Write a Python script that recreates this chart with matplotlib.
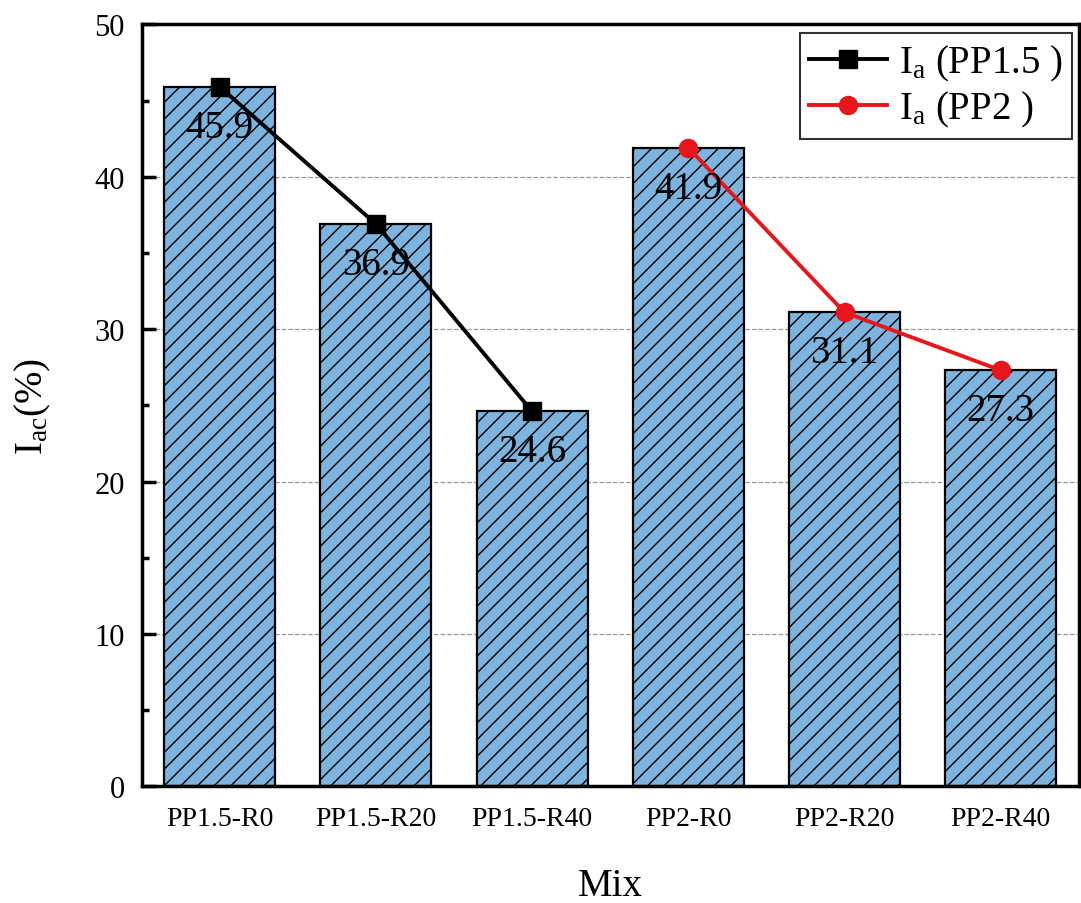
import matplotlib
matplotlib.use("Agg")
import matplotlib.pyplot as plt
import numpy as np

plt.rcParams['font.family'] = ['Liberation Serif', 'DejaVu Serif']
plt.rcParams['mathtext.fontset'] = 'custom'
plt.rcParams['mathtext.rm'] = 'Liberation Serif'
plt.rcParams['mathtext.it'] = 'Liberation Serif'
plt.rcParams['hatch.linewidth'] = 1.0

# data
mixes = ['PP1.5-R0', 'PP1.5-R20', 'PP1.5-R40', 'PP2-R0', 'PP2-R20', 'PP2-R40']
iac = [45.9, 36.9, 24.6, 41.9, 31.1, 27.3]
pp15_idx = [0, 1, 2]
pp2_idx = [3, 4, 5]

fig = plt.figure(figsize=(10.81, 9.04), dpi=100)
ax = fig.add_axes([0.131, 0.129, 0.867, 0.843])

x = np.arange(len(mixes))
ax.bar(x, iac, width=0.71, color='#7db4de', edgecolor='black', linewidth=1.6,
       hatch='//', zorder=2)

# value labels inside bars
for xi, v in zip(x, iac):
    ax.annotate('{:.1f}'.format(v), (xi, v), xytext=(0, -29), textcoords='offset points',
                ha='center', va='center', fontsize=28, zorder=5)

ax.plot(x[pp15_idx], [iac[i] for i in pp15_idx], color='black', lw=2.8,
        marker='s', markersize=13, label=r'I$_\mathregular{a}$ (PP1.5 )', zorder=4)
ax.plot(x[pp2_idx], [iac[i] for i in pp2_idx], color='#e8161b', lw=2.8,
        marker='o', markersize=13, label=r'I$_\mathregular{a}$ (PP2 )', zorder=4)

ax.set_xlim(-0.5, 5.5)
ax.set_ylim(0, 50)
ax.set_yticks([0, 10, 20, 30, 40, 50])
ax.set_yticks([5, 15, 25, 35, 45], minor=True)
ax.set_xticks(x)
ax.set_xticklabels(mixes)
ax.tick_params(axis='y', which='major', direction='in', length=10, width=2.5, labelsize=22, pad=12)
ax.tick_params(axis='y', which='minor', direction='in', length=5, width=2.5)
ax.tick_params(axis='x', length=0, labelsize=20, pad=14)
ax.yaxis.grid(True, linestyle='--', color='gray', lw=0.9, alpha=0.8)
ax.set_axisbelow(True)
for s in ax.spines.values():
    s.set_linewidth(2.5)

ax.set_ylabel(r'I$_\mathregular{ac}$(%)', fontsize=28, labelpad=30)
ax.set_xlabel('Mix', fontsize=28, labelpad=26)

leg = ax.legend(loc='upper right', fontsize=28, frameon=True, fancybox=False,
                edgecolor='black', handlelength=2.0, borderpad=0.25, labelspacing=0.15,
                handletextpad=0.3, bbox_to_anchor=(0.993, 0.988), borderaxespad=0)
leg.get_frame().set_linewidth(1.5)

fig.savefig('out.png', dpi=100)
